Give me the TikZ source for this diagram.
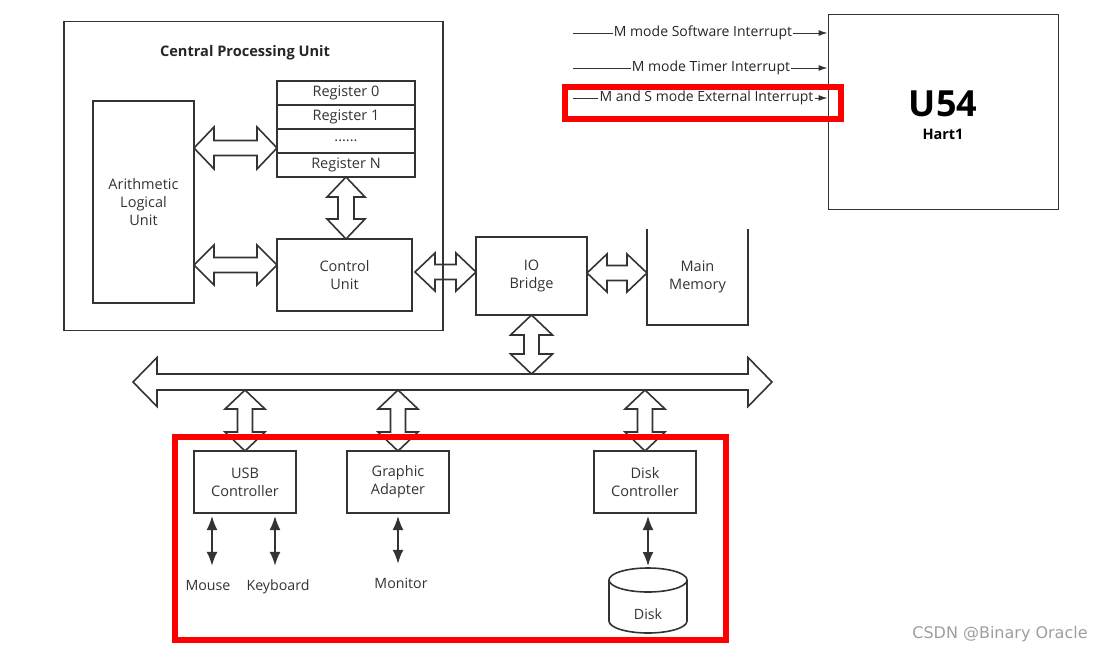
\documentclass[tikz,border=0pt]{standalone}
\usepackage{fontspec}
\setmainfont{Open Sans}
\newfontfamily\markfont{DejaVu Sans}
\usetikzlibrary{arrows.meta}
\usetikzlibrary{calc}
\usetikzlibrary{positioning}
\definecolor{ink}{HTML}{333333}
\definecolor{hired}{HTML}{FF0000}
\tikzset{
  box/.style = {draw = ink, line width = 1.6, inner sep = 0, outer sep = 0,
    align = center, text = ink, font = \fontsize{14.5}{18}\selectfont},
  reg/.style = {box, minimum width = 138, minimum height = 24,
    font = \fontsize{14.5}{16}\selectfont},
  lbl/.style = {inner sep = 0, text height = 11, text depth = 3, text = ink,
    font = \fontsize{14.2}{18}\selectfont},
  irq/.style = {inner sep = 1, text = black!85, font = \fontsize{14}{16}\selectfont},
  ptr/.style = {ink, line width = 1.8,
    {Latex[length=14pt,width=11pt]}-{Latex[length=14pt,width=11pt]}},
  bus/.style = {draw = ink, line width = 1.6},
  hilite/.style = {draw = hired, line width = 6}
}
% block double arrows: tip, tip, shaft half, head half, head length
\newcommand{\hbus}[5]{%
  \draw[bus] let \p1 = #1, \p2 = #2 in
    (\x1, \y1) -- (\x1+#5pt, \y1+#4pt) -- (\x1+#5pt, \y1+#3pt)
    -- (\x2-#5pt, \y1+#3pt) -- (\x2-#5pt, \y1+#4pt) -- (\x2, \y1)
    -- (\x2-#5pt, \y1-#4pt) -- (\x2-#5pt, \y1-#3pt)
    -- (\x1+#5pt, \y1-#3pt) -- (\x1+#5pt, \y1-#4pt) -- cycle;}
\newcommand{\vbus}[5]{%
  \draw[bus] let \p1 = #1, \p2 = #2 in
    (\x1, \y1) -- (\x1+#4pt, \y1-#5pt) -- (\x1+#3pt, \y1-#5pt)
    -- (\x1+#3pt, \y2+#5pt) -- (\x1+#4pt, \y2+#5pt) -- (\x1, \y2)
    -- (\x1-#4pt, \y2+#5pt) -- (\x1-#3pt, \y2+#5pt)
    -- (\x1-#3pt, \y1-#5pt) -- (\x1-#4pt, \y1-#5pt) -- cycle;}

\begin{document}
\begin{tikzpicture}[x=1pt, y=-1pt]
  \useasboundingbox (0,0) rectangle (1106,654);

  % cpu
  \node [box, minimum width=379, minimum height=309] (cpu) at (253.5,176) {};
  \node [inner sep=0, text=black!85, font=\bfseries\fontsize{14.6}{16}\selectfont]
    (cpuname) at (245,53) {Central Processing Unit};
  \node [box, minimum width=101, minimum height=202] (alu) at (143.5,202)
    {Arithmetic\\Logical\\Unit};
  \node [reg] (reg0) at (346,93) {Register 0};
  \node [reg, below=0 of reg0] (reg1) {Register 1};
  \node [reg, below=0 of reg1] (reg2) {......};
  \node [reg, below=0 of reg2] (regn) {Register N};
  \node [box, minimum width=135, minimum height=72] (cu) at (344.5,275)
    {Control\\Unit};

  \hbus{(alu.east |- 0,148)}{(reg0.west |- 0,148)}{7.5}{21}{20}
  \hbus{(alu.east |- 0,265)}{(cu.west |- 0,265)}{7.5}{20}{20}
  \vbus{(regn.south)}{(cu.north -| regn.south)}{8}{19}{20}

  % io bridge and memory
  \node [box, minimum width=111, minimum height=78] (io) at (531.5,276)
    {IO\\Bridge};
  \node [box, draw=none, minimum width=101, minimum height=96] (mem)
    at (697.5,277) {Main\\Memory};
  \draw [ink, line width=1.6] (mem.north west) -- (mem.south west)
    -- (mem.south east) -- (mem.north east);

  \hbus{($(cu.east |- 0,272)+(3,0)$)}{(io.west |- 0,272)}{7.5}{19}{20}
  \hbus{(io.east |- 0,273)}{(mem.west |- 0,273)}{7.5}{19}{20}

  % system bus
  \coordinate (busl) at (133,382);
  \coordinate (busr) at (772,382);
  \hbus{(busl)}{(busr)}{8}{24.5}{24}
  \vbus{(io.south)}{(io.south |- 0,374)}{7.5}{21}{20}

  % devices
  \node [box, minimum width=102, minimum height=62] (usb) at (245,482)
    {USB\\Controller};
  \node [box, minimum width=102, minimum height=62] (gfx) at (398,482)
    {Graphic\\Adapter};
  \node [box, minimum width=102, minimum height=62] (dskc) at (645,482)
    {Disk\\Controller};

  \foreach \dev in {usb,gfx,dskc} {
    \vbus{(\dev.north |- 0,390)}{(\dev.north)}{7.5}{20}{19}
  }

  \node [lbl, anchor=base] (mouse) at (208,590) {Mouse};
  \node [lbl, anchor=base] (keyb) at (278,590) {Keyboard};
  \node [lbl, anchor=base] (mon) at (401,588) {Monitor};

  \draw [ptr, shorten <=3pt, shorten >=13pt] (usb.south -| 212,0) -- (mouse.north -| 212,0);
  \draw [ptr, shorten <=3pt, shorten >=13pt] (usb.south -| 275,0) -- (keyb.north -| 275,0);
  \draw [ptr, shorten <=3pt, shorten >=13pt] (gfx.south) -- (mon.north -| gfx.south);

  % disk
  \draw [ink, line width=1.6] (609,580) -- (609,621)
    arc [start angle=180, end angle=360, x radius=39pt, y radius=12pt] -- (687,580);
  \draw [ink, line width=1.6] (648,580) ellipse [x radius=39pt, y radius=12pt];
  \coordinate (dtop) at (648,568);
  \node [lbl, anchor=base] (disk) at (648,619) {Disk};
  \draw [ptr, shorten <=3pt, shorten >=2pt] (dskc.south -| dtop) -- (dtop);

  % hart
  \node [draw=ink, line width=1, minimum width=230, minimum height=195] (u54)
    at (943,111.5) {};
  \node [inner sep=0, font=\bfseries\fontsize{36}{40}\selectfont] (u54name)
    at (943,104) {U54};
  \node [inner sep=0, font=\bfseries\fontsize{14.5}{16}\selectfont] (hart)
    at (943,134) {Hart1};

  \coordinate (swin) at (573,33);
  \coordinate (tmin) at (573,68);
  \coordinate (exin) at (573,98);
  \node [irq] (swi) at (703,33) {M mode Software Interrupt};
  \node [irq] (tmi) at (711,68) {M mode Timer Interrupt};
  \node [irq] (exi) at (706.5,98) {M and S mode External Interrupt};
  \foreach \src/\lab in {swin/swi,tmin/tmi,exin/exi} {
    \draw [ink, line width=1] (\src) -- (\lab.west);
    \draw [ink, line width=1, -{Latex[length=9pt,width=6pt]}] (\lab.east)
      -- (u54.west |- \lab.east);
  }

  % highlights
  \draw [hilite] (565,87) rectangle (841,119);
  \draw [hilite] (175,437) rectangle (726,640);

  \node [text=black!38, font=\markfont\fontsize{16}{18}\selectfont] (wm)
    at (1000,634) {CSDN @Binary Oracle};
\end{tikzpicture}
\end{document}
